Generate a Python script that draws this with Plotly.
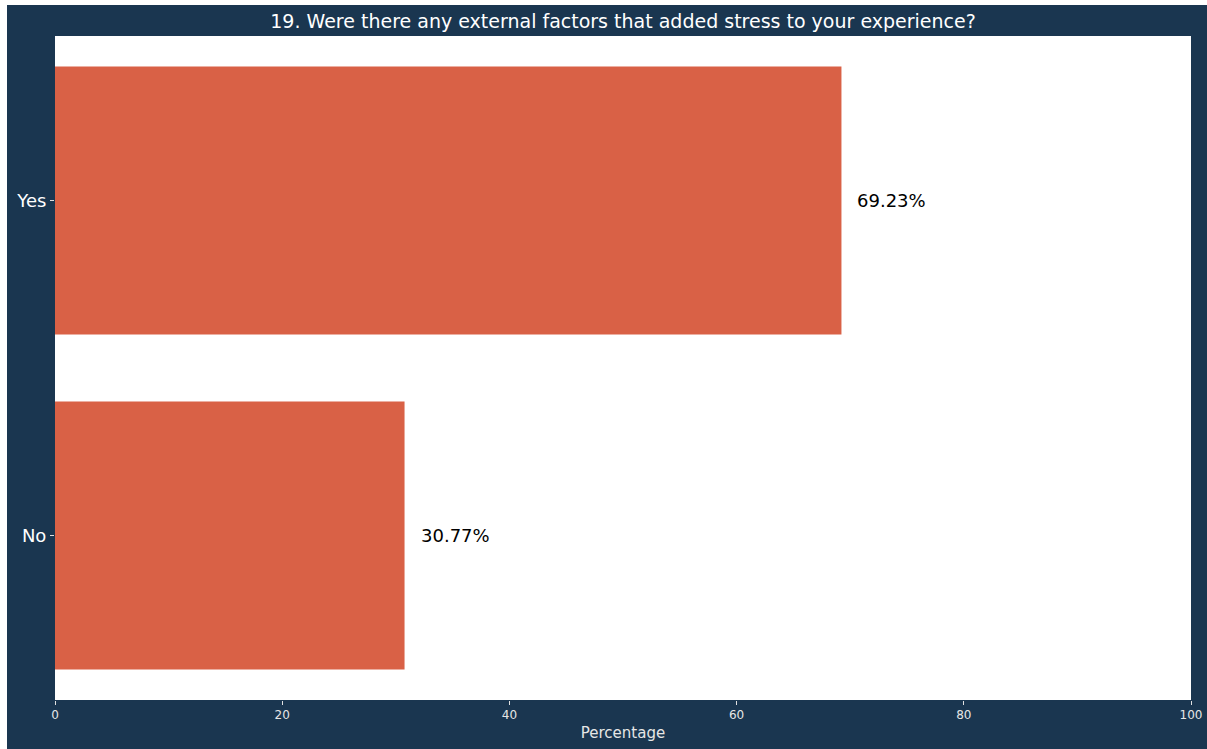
import plotly.graph_objects as go

# Survey responses (percent of respondents)
categories = ["No", "Yes"]
values = [30.77, 69.23]
x_ticks = [0, 20, 40, 60, 80, 100]

NAVY = "#1a3650"
BAR = "#d96146"
FONT = "DejaVu Sans"

W, H = 1207, 749
L, R, T, B = 55, 16, 36, 49
pw, ph = W - L - R, H - T - B


def px_x(p):
    return (p - L) / pw


def px_y(p):
    return (H - B - p) / ph


fig = go.Figure(
    go.Bar(
        x=values,
        y=categories,
        orientation="h",
        marker=dict(color=BAR, line=dict(width=0)),
        width=0.8,
        hoverinfo="skip",
    )
)

for cat, val in zip(categories, values):
    fig.add_annotation(
        x=val, y=cat, text=f"{val:.2f}%", showarrow=False,
        xanchor="left", xshift=14, font=dict(family=FONT, size=18, color="black"),
    )

# thin white strips along the top and left edges of the page
fig.add_shape(type="rect", xref="paper", yref="paper", layer="above",
              x0=px_x(0), x1=px_x(7), y0=px_y(H), y1=px_y(0),
              fillcolor="white", line=dict(width=0))
fig.add_shape(type="rect", xref="paper", yref="paper", layer="above",
              x0=px_x(0), x1=px_x(W), y0=px_y(5), y1=px_y(0),
              fillcolor="white", line=dict(width=0))

fig.update_layout(
    width=W, height=H, autosize=False,
    margin=dict(l=L, r=R, t=T, b=B, pad=0, autoexpand=False),
    paper_bgcolor=NAVY,
    plot_bgcolor="white",
    showlegend=False,
    bargap=0.2,
    title=dict(
        text="19. Were there any external factors that added stress to your experience?",
        x=px_x(623), xref="paper", xanchor="center",
        y=1 - 21.5 / H, yanchor="middle",
        font=dict(family=FONT, size=19, color="white"),
    ),
    xaxis=dict(
        range=[0, 100], tickvals=x_ticks, ticktext=[str(t) for t in x_ticks],
        showgrid=False, zeroline=False, showline=False, automargin=False,
        ticks="outside", ticklen=4, tickwidth=1, tickcolor="#e0e0e0",
        tickfont=dict(family=FONT, size=12, color="#e6e6e6"),
        title=dict(text="Percentage", standoff=6,
                   font=dict(family=FONT, size=15, color="#e6e6e6")),
    ),
    yaxis=dict(
        range=[-0.491, 1.491], showgrid=False, zeroline=False, showline=False,
        automargin=False,
        ticks="outside", ticklen=4, tickwidth=1, tickcolor="#e0e0e0",
        tickfont=dict(family=FONT, size=18, color="white"),
    ),
)

fig.write_html("out.html")
